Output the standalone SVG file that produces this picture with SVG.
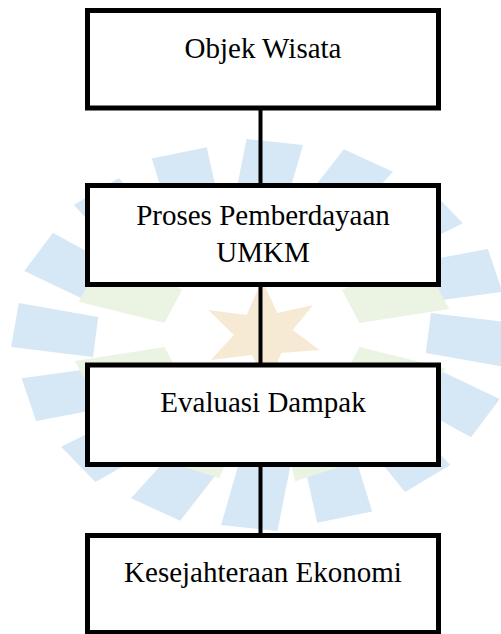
<svg xmlns="http://www.w3.org/2000/svg" xmlns:xlink="http://www.w3.org/1999/xlink" width="501" height="634" viewBox="0 0 501 634">
<style>
.box{fill:#ffffff;stroke:#000000;stroke-width:5}
.lbl{font-family:"Liberation Serif","Times New Roman",serif;font-size:29px;fill:#000000;text-anchor:middle}
.con{stroke:#000000;stroke-width:4;fill:none}
.bp{fill:#d6e7f5}
.gp{fill:#ebf3e2}
</style>
<defs>
<polygon id="petal" points="-22,-132 18,-128 32,-190 -12,-196"/>
<polygon id="gpetal" points="-18,-75 18,-75 32,-145 -24,-145"/>
</defs>
<rect x="0" y="0" width="501" height="634" fill="#ffffff"/>
<g id="watermark" transform="translate(262,335) scale(1.28,1)">
<g class="bp">
<use xlink:href="#petal" transform="rotate(0)"/>
<use xlink:href="#petal" transform="rotate(22.5)"/>
<use xlink:href="#petal" transform="rotate(45)"/>
<use xlink:href="#petal" transform="rotate(67.5)"/>
<use xlink:href="#petal" transform="rotate(90)"/>
<use xlink:href="#petal" transform="rotate(112.5)"/>
<use xlink:href="#petal" transform="rotate(135)"/>
<use xlink:href="#petal" transform="rotate(157.5)"/>
<use xlink:href="#petal" transform="rotate(180)"/>
<use xlink:href="#petal" transform="rotate(202.5)"/>
<use xlink:href="#petal" transform="rotate(225)"/>
<use xlink:href="#petal" transform="rotate(247.5)"/>
<use xlink:href="#petal" transform="rotate(270)"/>
<use xlink:href="#petal" transform="rotate(292.5)"/>
<use xlink:href="#petal" transform="rotate(315)"/>
<use xlink:href="#petal" transform="rotate(337.5)"/>
</g>
<g class="gp">
<use xlink:href="#gpetal" transform="rotate(22.5)"/>
<use xlink:href="#gpetal" transform="rotate(67.5)"/>
<use xlink:href="#gpetal" transform="rotate(112.5)"/>
<use xlink:href="#gpetal" transform="rotate(157.5)"/>
<use xlink:href="#gpetal" transform="rotate(202.5)"/>
<use xlink:href="#gpetal" transform="rotate(247.5)"/>
<use xlink:href="#gpetal" transform="rotate(292.5)"/>
<use xlink:href="#gpetal" transform="rotate(337.5)"/>
</g>
<polygon fill="#f6ead5" points="0,-55 12,-22 40,-30 24,-5 45,15 15,18 5,50 -8,20 -40,25 -22,0 -42,-25 -12,-20"/>
</g>
<g id="connectors">
<line class="con" x1="260.5" y1="108" x2="260.5" y2="185.5"/>
<line class="con" x1="260.5" y1="284.5" x2="260.5" y2="365"/>
<line class="con" x1="260.5" y1="464.5" x2="260.5" y2="535.5"/>
</g>
<g id="node-objek-wisata">
<rect class="box" x="87.5" y="10.5" width="351" height="97.5"/>
<text class="lbl" x="263" y="58">Objek Wisata</text>
</g>
<g id="node-proses-pemberdayaan">
<rect class="box" x="87.5" y="185.5" width="351" height="99"/>
<text class="lbl" x="263" y="225">Proses Pemberdayaan</text>
<text class="lbl" x="263" y="262">UMKM</text>
</g>
<g id="node-evaluasi-dampak">
<rect class="box" x="87.5" y="365" width="351" height="99.5"/>
<text class="lbl" x="263" y="412">Evaluasi Dampak</text>
</g>
<g id="node-kesejahteraan-ekonomi">
<rect class="box" x="87.5" y="535.5" width="351" height="97"/>
<text class="lbl" x="263" y="582">Kesejahteraan Ekonomi</text>
</g>
</svg>
